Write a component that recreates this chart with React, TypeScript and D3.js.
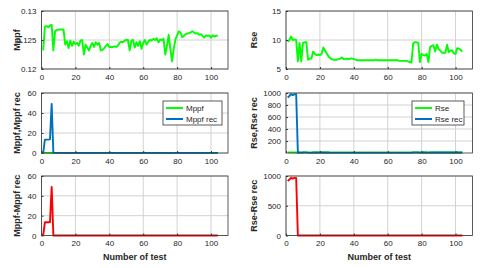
import { useEffect, useRef } from 'react';
import * as d3 from 'd3';

// measured values, test 1..104
const mppf = [
  0.1232, 0.1273, 0.1274, 0.1272, 0.1275, 0.1276, 0.1232, 0.1265, 0.1267, 0.1268,
  0.1268, 0.1268, 0.1268, 0.1242, 0.1248, 0.1236, 0.1249, 0.1240, 0.1247, 0.1243,
  0.1245, 0.1240, 0.1249, 0.1250, 0.1225, 0.1242, 0.1237, 0.1232, 0.1240, 0.1245,
  0.1238, 0.1246, 0.1242, 0.1245, 0.1232, 0.1233, 0.1236, 0.1240, 0.1243, 0.1238,
  0.1238, 0.1238, 0.1239, 0.1238, 0.1240, 0.1245, 0.1247, 0.1246, 0.1249, 0.1250,
  0.1250, 0.1232, 0.1249, 0.1250, 0.1237, 0.1246, 0.1240, 0.1248, 0.1235, 0.1245,
  0.1250, 0.1242, 0.1247, 0.1250, 0.1249, 0.1252, 0.1250, 0.1253, 0.1246, 0.1251,
  0.1250, 0.1252, 0.1225, 0.1240, 0.1259, 0.1235, 0.1213, 0.1235, 0.1251, 0.1258,
  0.1265, 0.1263, 0.1255, 0.1257, 0.1260, 0.1261, 0.1262, 0.1263, 0.1265, 0.1263,
  0.1261, 0.1262, 0.1259, 0.1260, 0.1257, 0.1254, 0.1258, 0.1257, 0.1258, 0.1254,
  0.1258, 0.1256, 0.1257, 0.1258,
];

const rse = [
  9.7, 10.0, 10.6, 10.0, 10.1, 10.0, 6.3, 9.5, 6.3, 9.5,
  9.6, 9.6, 6.6, 6.8, 6.8, 8.0, 7.6, 7.4, 7.5, 7.4,
  7.6, 8.7, 8.2, 7.7, 7.2, 6.9, 6.7, 6.6, 6.6, 6.6,
  6.7, 6.8, 7.0, 6.7, 6.7, 6.8, 6.7, 6.8, 6.8, 6.7,
  6.6, 6.5, 6.5, 6.5, 6.5, 6.5, 6.5, 6.5, 6.5, 6.5,
  6.5, 6.5, 6.6, 6.5, 6.5, 6.5, 6.5, 6.5, 6.5, 6.5,
  6.5, 6.5, 6.5, 6.5, 6.5, 6.5, 6.4, 6.4, 6.4, 6.4,
  6.4, 6.3, 6.2, 6.1, 9.4, 9.6, 9.6, 9.5, 6.2, 7.6,
  7.4, 7.3, 7.6, 6.2, 8.8, 9.0, 9.1, 8.0, 9.2, 8.4,
  8.2, 7.8, 7.8, 7.8, 9.2, 7.9, 8.2, 8.2, 7.7, 7.6,
  8.6, 8.5, 8.3, 8.0,
];

// recovered values
const mppfRec = [
  0, 13.4, 13.4, 13.4, 13.6, 49.1, 0.123, 0.127, 0.127, 0.127,
  0.127, 0.127, 0.127, 0.124, 0.125, 0.124, 0.125, 0.124, 0.125, 0.124,
  0.125, 0.124, 0.125, 0.125, 0.123, 0.124, 0.124, 0.123, 0.124, 0.125,
  0.124, 0.125, 0.124, 0.125, 0.123, 0.123, 0.124, 0.124, 0.124, 0.124,
  0.124, 0.124, 0.124, 0.124, 0.124, 0.125, 0.125, 0.125, 0.125, 0.125,
  0.125, 0.123, 0.125, 0.125, 0.124, 0.125, 0.124, 0.125, 0.124, 0.125,
  0.125, 0.124, 0.125, 0.125, 0.125, 0.125, 0.125, 0.125, 0.125, 0.125,
  0.125, 0.125, 0.123, 0.124, 0.126, 0.124, 0.121, 0.124, 0.125, 0.126,
  0.127, 0.126, 0.126, 0.126, 0.126, 0.126, 0.126, 0.126, 0.127, 0.126,
  0.126, 0.126, 0.126, 0.126, 0.126, 0.125, 0.126, 0.126, 0.126, 0.125,
  0.126, 0.126, 0.126, 0.126,
];

const rseRec = [
  925, 950, 981, 965, 978, 978, 6.3, 9.5, 6.3, 9.5,
  9.6, 9.6, 6.6, 6.8, 6.8, 8.0, 7.6, 7.4, 7.5, 7.4,
  7.6, 8.7, 8.2, 7.7, 7.2, 6.9, 6.7, 6.6, 6.6, 6.6,
  6.7, 6.8, 7.0, 6.7, 6.7, 6.8, 6.7, 6.8, 6.8, 6.7,
  6.6, 6.5, 6.5, 6.5, 6.5, 6.5, 6.5, 6.5, 6.5, 6.5,
  6.5, 6.5, 6.6, 6.5, 6.5, 6.5, 6.5, 6.5, 6.5, 6.5,
  6.5, 6.5, 6.5, 6.5, 6.5, 6.5, 6.4, 6.4, 6.4, 6.4,
  6.4, 6.3, 6.2, 6.1, 9.4, 9.6, 9.6, 9.5, 6.2, 7.6,
  7.4, 7.3, 7.6, 6.2, 8.8, 9.0, 9.1, 8.0, 9.2, 8.4,
  8.2, 7.8, 7.8, 7.8, 9.2, 7.9, 8.2, 8.2, 7.7, 7.6,
  8.6, 8.5, 8.3, 8.0,
];

// differences
const mppfDiff = [
  0.12, 13.3, 13.3, 13.3, 13.5, 49.0, 0, 0, 0, 0,
  0, 0, 0, 0, 0, 0, 0, 0, 0, 0,
  0, 0, 0, 0, 0, 0, 0, 0, 0, 0,
  0, 0, 0, 0, 0, 0, 0, 0, 0, 0,
  0, 0, 0, 0, 0, 0, 0, 0, 0, 0,
  0, 0, 0, 0, 0, 0, 0, 0, 0, 0,
  0, 0, 0, 0, 0, 0, 0, 0, 0, 0,
  0, 0, 0, 0, 0, 0, 0, 0, 0, 0,
  0, 0, 0, 0, 0, 0, 0, 0, 0, 0,
  0, 0, 0, 0, 0, 0, 0, 0, 0, 0,
  0, 0, 0, 0,
];

const rseDiff = [
  915, 940, 970, 955, 968, 968, 0, 0, 0, 0,
  0, 0, 0, 0, 0, 0, 0, 0, 0, 0,
  0, 0, 0, 0, 0, 0, 0, 0, 0, 0,
  0, 0, 0, 0, 0, 0, 0, 0, 0, 0,
  0, 0, 0, 0, 0, 0, 0, 0, 0, 0,
  0, 0, 0, 0, 0, 0, 0, 0, 0, 0,
  0, 0, 0, 0, 0, 0, 0, 0, 0, 0,
  0, 0, 0, 0, 0, 0, 0, 0, 0, 0,
  0, 0, 0, 0, 0, 0, 0, 0, 0, 0,
  0, 0, 0, 0, 0, 0, 0, 0, 0, 0,
  0, 0, 0, 0,
];

const xTicks = [0, 20, 40, 60, 80, 100];
const mppfTicks = [0.12, 0.125, 0.13];
const rseTicks = [5, 10, 15];
const smallTicks = [0, 20, 40, 60];
const recTicks = [200, 400, 600, 800, 1000];
const diffTicks = [0, 500, 1000];

const GREEN = '#00ff00';
const BLUE = '#0072bd';
const RED = '#ff0000';
const FONT = '"Liberation Sans", Arial, sans-serif';

type Series = { values: number[]; color: string; label: string };
type Panel = {
  col: number; row: number;
  yDomain: [number, number]; yTicks: number[]; yLabel: string;
  series: Series[]; legend?: boolean;
};

const panels: Panel[] = [
  { col: 0, row: 0, yDomain: [0.12, 0.13], yTicks: mppfTicks, yLabel: 'Mppf',
    series: [{ values: mppf, color: GREEN, label: 'Mppf' }] },
  { col: 1, row: 0, yDomain: [5, 15], yTicks: rseTicks, yLabel: 'Rse',
    series: [{ values: rse, color: GREEN, label: 'Rse' }] },
  { col: 0, row: 1, yDomain: [0, 60], yTicks: smallTicks, yLabel: 'Mppf,Mppf rec', legend: true,
    series: [{ values: mppf, color: GREEN, label: 'Mppf' }, { values: mppfRec, color: BLUE, label: 'Mppf rec' }] },
  { col: 1, row: 1, yDomain: [0, 1000], yTicks: recTicks, yLabel: 'Rse,Rse rec', legend: true,
    series: [{ values: rse, color: GREEN, label: 'Rse' }, { values: rseRec, color: BLUE, label: 'Rse rec' }] },
  { col: 0, row: 2, yDomain: [0, 60], yTicks: smallTicks, yLabel: 'Mppf-Mppf rec',
    series: [{ values: mppfDiff, color: RED, label: 'Mppf-Mppf rec' }] },
  { col: 1, row: 2, yDomain: [0, 1000], yTicks: diffTicks, yLabel: 'Rse-Rse rec',
    series: [{ values: rseDiff, color: RED, label: 'Rse-Rse rec' }] },
];

const cols = [
  { x0: 41.5, x1: 228, yl: 20, legX: 163, legW: 59 },
  { x0: 286, x1: 472.5, yl: 257, legX: 412, legW: 52 },
];
const rows = [
  { y0: 11, y1: 69 },
  { y0: 93, y1: 153 },
  { y0: 176, y1: 235.5 },
];

export default function App() {
  const ref = useRef<SVGSVGElement>(null);

  useEffect(() => {
    document.body.style.margin = '0';
    const svg = d3.select(ref.current);
    svg.selectAll('*').remove();
    svg.append('rect').attr('width', 480).attr('height', 268).attr('fill', '#fff');

    panels.forEach(p => {
      const c = cols[p.col];
      const r = rows[p.row];
      const x = d3.scaleLinear().domain([0, 110]).range([c.x0, c.x1]);
      const y = d3.scaleLinear().domain(p.yDomain).range([r.y1, r.y0]);
      const g = svg.append('g');

      // grid
      g.append('g').selectAll('line').data(xTicks).join('line')
        .attr('x1', d => x(d)).attr('x2', d => x(d)).attr('y1', r.y0).attr('y2', r.y1)
        .attr('stroke', '#d2d2d2').attr('stroke-width', 1);
      g.append('g').selectAll('line').data(p.yTicks).join('line')
        .attr('x1', c.x0).attr('x2', c.x1).attr('y1', d => y(d)).attr('y2', d => y(d))
        .attr('stroke', '#d2d2d2').attr('stroke-width', 1);

      // lines
      const line = d3.line<number>().x((_, i) => x(i + 1)).y(d => y(d));
      p.series.forEach(s => {
        g.append('path').datum(s.values).attr('d', line)
          .attr('fill', 'none').attr('stroke', s.color).attr('stroke-width', 1.9)
          .attr('stroke-linejoin', 'round');
      });

      // axes
      g.append('g').attr('transform', `translate(0,${r.y1})`)
        .call(d3.axisBottom(x).tickValues(xTicks).tickSizeInner(-2).tickSizeOuter(0).tickPadding(5).tickFormat(d => String(d)))
        .call(a => a.select('.domain').remove())
        .call(a => a.selectAll('line').attr('stroke', '#333'))
        .call(a => a.selectAll('text').attr('fill', '#262626').attr('font-size', 8).attr('font-family', FONT));
      g.append('g').attr('transform', `translate(${c.x0},0)`)
        .call(d3.axisLeft(y).tickValues(p.yTicks).tickSizeInner(-2).tickSizeOuter(0).tickPadding(5).tickFormat(d => String(d)))
        .call(a => a.select('.domain').remove())
        .call(a => a.selectAll('line').attr('stroke', '#333'))
        .call(a => a.selectAll('text').attr('fill', '#262626').attr('font-size', 8).attr('font-family', FONT));

      g.append('rect').attr('x', c.x0).attr('y', r.y0)
        .attr('width', c.x1 - c.x0).attr('height', r.y1 - r.y0)
        .attr('fill', 'none').attr('stroke', '#333').attr('stroke-width', 0.8);

      g.append('text')
        .attr('transform', `translate(${c.yl},${(r.y0 + r.y1) / 2}) rotate(-90)`)
        .attr('text-anchor', 'middle').attr('font-family', FONT).attr('font-size', 9)
        .attr('font-weight', 'bold').attr('fill', '#262626')
        .text(p.yLabel);

      if (p.row === 2) {
        g.append('text')
          .attr('x', (c.x0 + c.x1) / 2).attr('y', 260)
          .attr('text-anchor', 'middle').attr('font-family', FONT).attr('font-size', 9)
          .attr('font-weight', 'bold').attr('fill', '#262626')
          .text('Number of test');
      }

      if (p.legend) {
        const lg = g.append('g').attr('transform', `translate(${c.legX},101)`);
        lg.append('rect').attr('width', c.legW).attr('height', 24)
          .attr('fill', '#fff').attr('stroke', '#333').attr('stroke-width', 0.8);
        p.series.forEach((s, i) => {
          const yy = 7 + i * 11;
          lg.append('line').attr('x1', 3).attr('x2', 20).attr('y1', yy).attr('y2', yy)
            .attr('stroke', s.color).attr('stroke-width', 2);
          lg.append('text').attr('x', 23).attr('y', yy + 3).attr('font-family', FONT)
            .attr('font-size', 8).attr('fill', '#262626').text(s.label);
        });
      }
    });
  }, []);

  return <svg ref={ref} width={480} height={268} style={{ display: 'block' }} />;
}
